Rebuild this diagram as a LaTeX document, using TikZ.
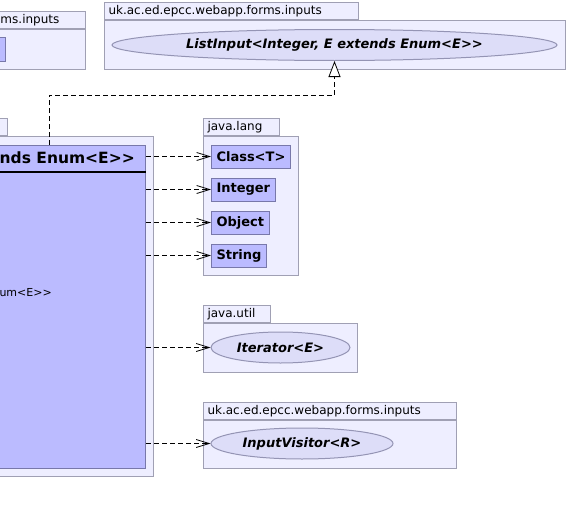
\documentclass[tikz,border=0pt]{standalone}
\usepackage{fontspec}
\setmainfont{DejaVu Sans}[Ligatures=TeXOff]
\usetikzlibrary{shapes.geometric,arrows.meta,positioning}
\definecolor{pkgfill}{HTML}{EEEEFF}
\definecolor{pkgline}{HTML}{A0A0B4}
\definecolor{clsfill}{HTML}{BBBBFF}
\definecolor{clsline}{HTML}{7878AA}
\definecolor{ifcfill}{HTML}{DDDDF8}
\definecolor{ifcline}{HTML}{9494B4}

\begin{document}
\begin{tikzpicture}[x=1pt, y=-1pt,
    pkg/.style={draw=pkgline, fill=pkgfill, line width=1pt, anchor=north west, inner sep=0pt},
    pkgtab/.style={draw=pkgline, fill=pkgfill, line width=1pt, anchor=south west, minimum height=17pt, inner xsep=4pt, inner ysep=0pt, text width=#1, align=left, font=\fontsize{12}{14}\selectfont},
    cls/.style={draw=clsline, fill=clsfill, line width=1pt, anchor=west, minimum height=23pt, inner xsep=5pt, font=\fontsize{13}{15}\selectfont\bfseries},
    ifc/.style={ellipse, draw=ifcline, fill=ifcfill, line width=1pt, minimum height=31pt, inner sep=2pt, font=\fontsize{13}{15}\selectfont\bfseries\itshape},
    dep/.style={-{Straight Barb[length=13pt, width=8pt]}, line width=0.8pt, dash pattern=on 5pt off 3pt},
    realize/.style={-{Triangle[open, fill=white, length=16pt, width=12pt]}, line width=0.8pt, dash pattern=on 5pt off 3pt}
]
\useasboundingbox (0,0) rectangle (568,514);
\clip (0,0) rectangle (568,514);

\node[pkg, minimum width=185pt, minimum height=40pt] (leftpkg) at (-100,29) {};
\node[pkgtab=81pt, anchor=south east] (lefttab) at (leftpkg.north east) {ms.inputs};
\node[cls, anchor=north west, minimum width=65pt, minimum height=24pt] (leftcls) at (-60,37) {};

\node[pkg, minimum width=461pt, minimum height=49pt] (inputspkg) at (104,20) {};
\node[pkgtab=246pt] (inputstab) at (inputspkg.north west) {uk.ac.ed.epcc.webapp.forms.inputs};
\node[ifc, minimum width=445pt] (listinput) at (334.5,45) {ListInput<Integer, E extends Enum<E>>};

\node[pkg, minimum width=453pt, minimum height=340pt] (mainpkg) at (-300,136) {};
\node[pkgtab=299pt] (maintab) at (mainpkg.north west) {};
\node[cls, anchor=north west, minimum width=437pt, minimum height=323pt] (listcls) at (-292,145) {};
\node[anchor=east, inner sep=0pt, font=\fontsize{15.5}{17}\selectfont\bfseries] (listname) at (135,158) {nds Enum<E>>};
\draw[line width=2pt] (listcls.west |- 0,171.5) -- (listcls.east |- 0,171.5);
\node[anchor=east, inner sep=0pt, font=\fontsize{11}{13}\selectfont] (listtype) at (52,293) {um<E>>};

\node[pkg, minimum width=95pt, minimum height=139pt] (langpkg) at (203,136) {};
\node[pkgtab=68pt] (langtab) at (langpkg.north west) {java.lang};
\node[cls] (classT) at (211,156.5) {Class<T>};
\node[cls] (integer) at (211,189.5) {Integer};
\node[cls] (object) at (211,222.5) {Object};
\node[cls] (string) at (211,255.5) {String};

\node[pkg, minimum width=154pt, minimum height=49pt] (utilpkg) at (203,323) {};
\node[pkgtab=59pt] (utiltab) at (utilpkg.north west) {java.util};
\node[ifc, minimum width=139pt] (iterator) at (280.5,347.5) {Iterator<E>};

\node[pkg, minimum width=253pt, minimum height=48pt] (visitpkg) at (203,420) {};
\node[pkgtab=245pt] (visittab) at (visitpkg.north west) {uk.ac.ed.epcc.webapp.forms.inputs};
\node[ifc, minimum width=182pt] (visitor) at (302,443.5) {InputVisitor<R>};

\coordinate (bend) at (49,95);
\draw[realize] (bend |- listcls.north) -- (bend) -| (listinput.south);

\draw[dep] (listcls.east |- classT.west) -- (classT.west);
\draw[dep] (listcls.east |- integer.west) -- (integer.west);
\draw[dep] (listcls.east |- object.west) -- (object.west);
\draw[dep] (listcls.east |- string.west) -- (string.west);
\draw[dep] (listcls.east |- iterator.west) -- (iterator.west);
\draw[dep] (listcls.east |- visitor.west) -- (visitor.west);
\end{tikzpicture}
\end{document}
